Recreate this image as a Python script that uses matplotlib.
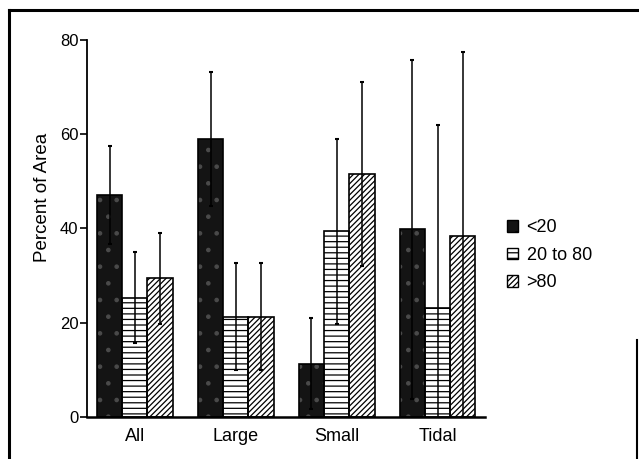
import matplotlib.pyplot as plt
from matplotlib.patches import Patch
from matplotlib.lines import Line2D
import numpy as np

plt.rcParams['font.family'] = ['Liberation Sans', 'DejaVu Sans']
plt.rcParams['hatch.linewidth'] = 0.9

groups = ['All', 'Large', 'Small', 'Tidal']
series = ['<20', '20 to 80', '>80']
# bar heights and upper error bar tops
lt20 = [47, 59, 11.3, 39.8]
mid = [25.3, 21.3, 39.4, 23.2]
gt80 = [29.4, 21.3, 51.5, 38.5]
lt20_top = [57.4, 73.2, 20.9, 75.7]
mid_top = [35, 32.7, 59, 62]
gt80_top = [39.1, 32.7, 71, 77.4]

fig = plt.figure(figsize=(6.39, 4.59), dpi=100)
ax = fig.add_axes([0.136, 0.0915, 0.623, 0.8215])

x = np.arange(len(groups))
w = 0.25
styles = [
    dict(face='#141414', hatch='.', hcol='#4a4a4a'),
    dict(face='white', hatch='---', hcol='black'),
    dict(face='white', hatch='//////', hcol='black'),
]
vals = [lt20, mid, gt80]
tops = [lt20_top, mid_top, gt80_top]

for i, (v, t, st) in enumerate(zip(vals, tops, styles)):
    pos = x + (i - 1) * w
    v = np.array(v)
    err = np.array(t) - v
    ax.bar(pos, v, w, color=st['face'], hatch=st['hatch'], edgecolor=st['hcol'],
           linewidth=0, zorder=2)
    ax.bar(pos, v, w, fill=False, edgecolor='black', linewidth=1.2, zorder=3)
    # symmetric error bars, drawn through the bar
    ax.errorbar(pos, v, yerr=err, fmt='none', ecolor='black', elinewidth=1.1,
                capsize=1.2, capthick=1.5, zorder=4)

ax.set_xlim(-0.475, 3.47)
ax.set_ylim(0, 80)
ax.set_yticks([0, 20, 40, 60, 80])
ax.set_xticks(x)
ax.set_xticklabels(groups, fontsize=13)
ax.tick_params(axis='x', length=0, pad=8)
ax.tick_params(axis='y', length=5, width=1.2, labelsize=12, pad=1)
ax.spines['top'].set_visible(False)
ax.spines['right'].set_visible(False)
ax.spines['left'].set_linewidth(1.3)
ax.spines['bottom'].set_linewidth(1.8)
ax.set_ylabel('Percent of Area', fontsize=13.5)
ax.yaxis.set_label_coords(-0.09, 0.583)

handles = [Patch(facecolor=st['face'], hatch=st['hatch'], edgecolor='black', linewidth=1.0)
           for st in styles]
fig.legend(handles, series, loc='center left', bbox_to_anchor=(0.793, 0.444),
           frameon=False, fontsize=13, handlelength=0.6, handleheight=0.6,
           handletextpad=0.5, labelspacing=0.58, borderpad=0, borderaxespad=0)

# scanned page frame
fig.add_artist(Line2D([0.014, 0.014], [0.0, 0.978], color='black', linewidth=2.2,
                      transform=fig.transFigure))
fig.add_artist(Line2D([0.014, 1.0], [0.978, 0.978], color='black', linewidth=2.2,
                      transform=fig.transFigure))
fig.add_artist(Line2D([0.997, 0.997], [0.0, 0.26], color='black', linewidth=1.5,
                      transform=fig.transFigure))

fig.savefig('out.png', dpi=100)
